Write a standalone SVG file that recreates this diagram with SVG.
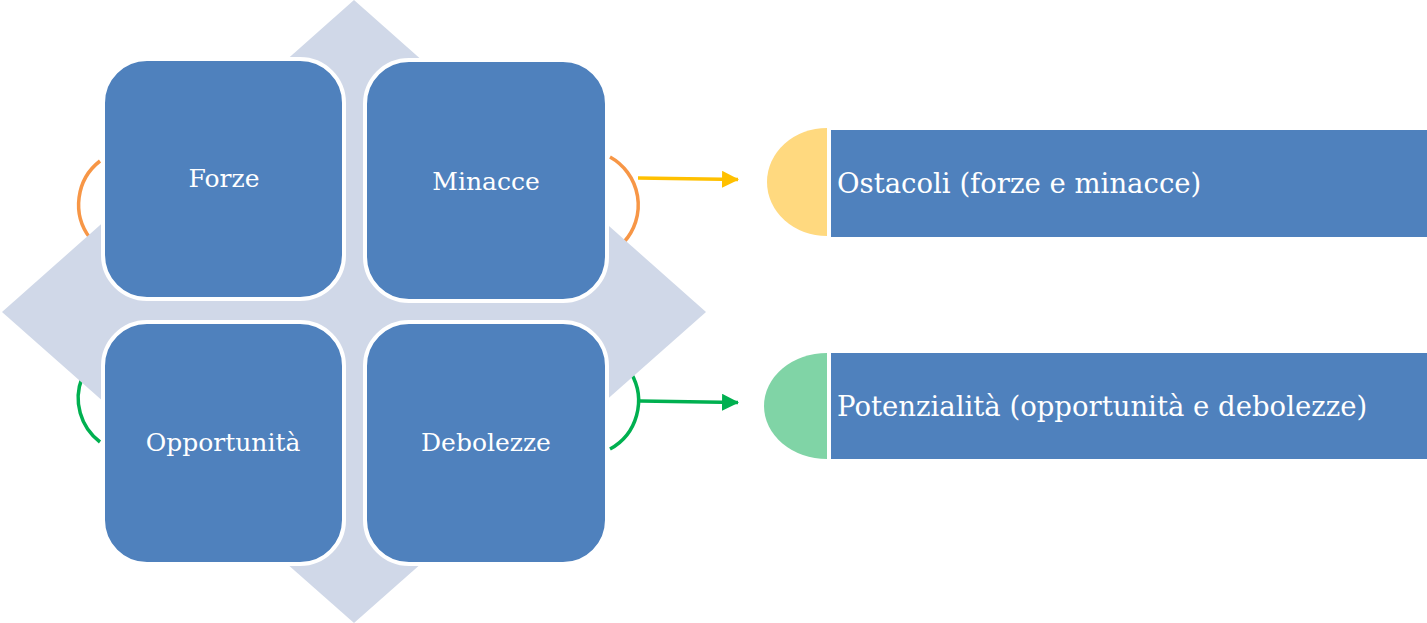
<svg xmlns="http://www.w3.org/2000/svg" width="1427" height="623" viewBox="0 0 1427 623">
<style>
.box{fill:#4F81BD;stroke:#FFFFFF;stroke-width:4}
.lbl{font-family:"DejaVu Serif","Liberation Serif",serif;font-size:25px;fill:#FFFFFF;text-anchor:middle}
.rlbl{font-family:"DejaVu Serif","Liberation Serif",serif;font-size:27.5px;fill:#FFFFFF}
.arc{fill:none;stroke-width:3.5}
.bar{fill:#4F81BD}
</style>
<defs>
<marker id="ahY" markerWidth="17" markerHeight="17" refX="16" refY="8.5" orient="auto" markerUnits="userSpaceOnUse"><path d="M0,0 L17,8.5 L0,17 Z" fill="#FFC000"/></marker>
<marker id="ahG" markerWidth="17" markerHeight="17" refX="16" refY="8.5" orient="auto" markerUnits="userSpaceOnUse"><path d="M0,0 L17,8.5 L0,17 Z" fill="#00B050"/></marker>
</defs>
<g id="connectors">
<path class="arc" stroke="#F79646" d="M 100 161 A 55 55 0 0 0 90 238"/>
<path class="arc" stroke="#F79646" d="M 610 157 A 55 55 0 0 1 624 242"/>
<path class="arc" stroke="#00B050" d="M 82 378 A 55 55 0 0 0 100 442"/>
<path class="arc" stroke="#00B050" d="M 631 373 A 55 55 0 0 1 610 449"/>
<line x1="638" y1="178" x2="738" y2="179.5" stroke="#FFC000" stroke-width="3.5" marker-end="url(#ahY)"/>
<line x1="640" y1="401" x2="738" y2="402.5" stroke="#00B050" stroke-width="3.5" marker-end="url(#ahG)"/>
</g>
<g id="background">
<polygon points="354,0 706,312 354,623 2,312" fill="#D0D8E8"/>
</g>
<g id="forze">
<rect class="box" x="103" y="59" width="241" height="240" rx="44"/>
<text class="lbl" x="224" y="187">Forze</text>
</g>
<g id="minacce">
<rect class="box" x="365" y="60" width="242" height="241" rx="44"/>
<text class="lbl" x="486" y="190">Minacce</text>
</g>
<g id="opportunita">
<rect class="box" x="103" y="322" width="241" height="242" rx="44"/>
<text class="lbl" x="223" y="451">Opportunità</text>
</g>
<g id="debolezze">
<rect class="box" x="365" y="322" width="242" height="242" rx="44"/>
<text class="lbl" x="486" y="451">Debolezze</text>
</g>
<g id="ostacoli">
<path d="M 827 128 A 60 54 0 0 0 827 236 Z" fill="#FFD97F"/>
<rect class="bar" x="831" y="130" width="596" height="107"/>
<text class="rlbl" x="837" y="193">Ostacoli (forze e minacce)</text>
</g>
<g id="potenzialita">
<path d="M 827 353 A 63 53 0 0 0 827 459 Z" fill="#80D4A6"/>
<rect class="bar" x="831" y="353" width="596" height="106"/>
<text class="rlbl" x="837" y="416">Potenzialità (opportunità e debolezze)</text>
</g>
</svg>
